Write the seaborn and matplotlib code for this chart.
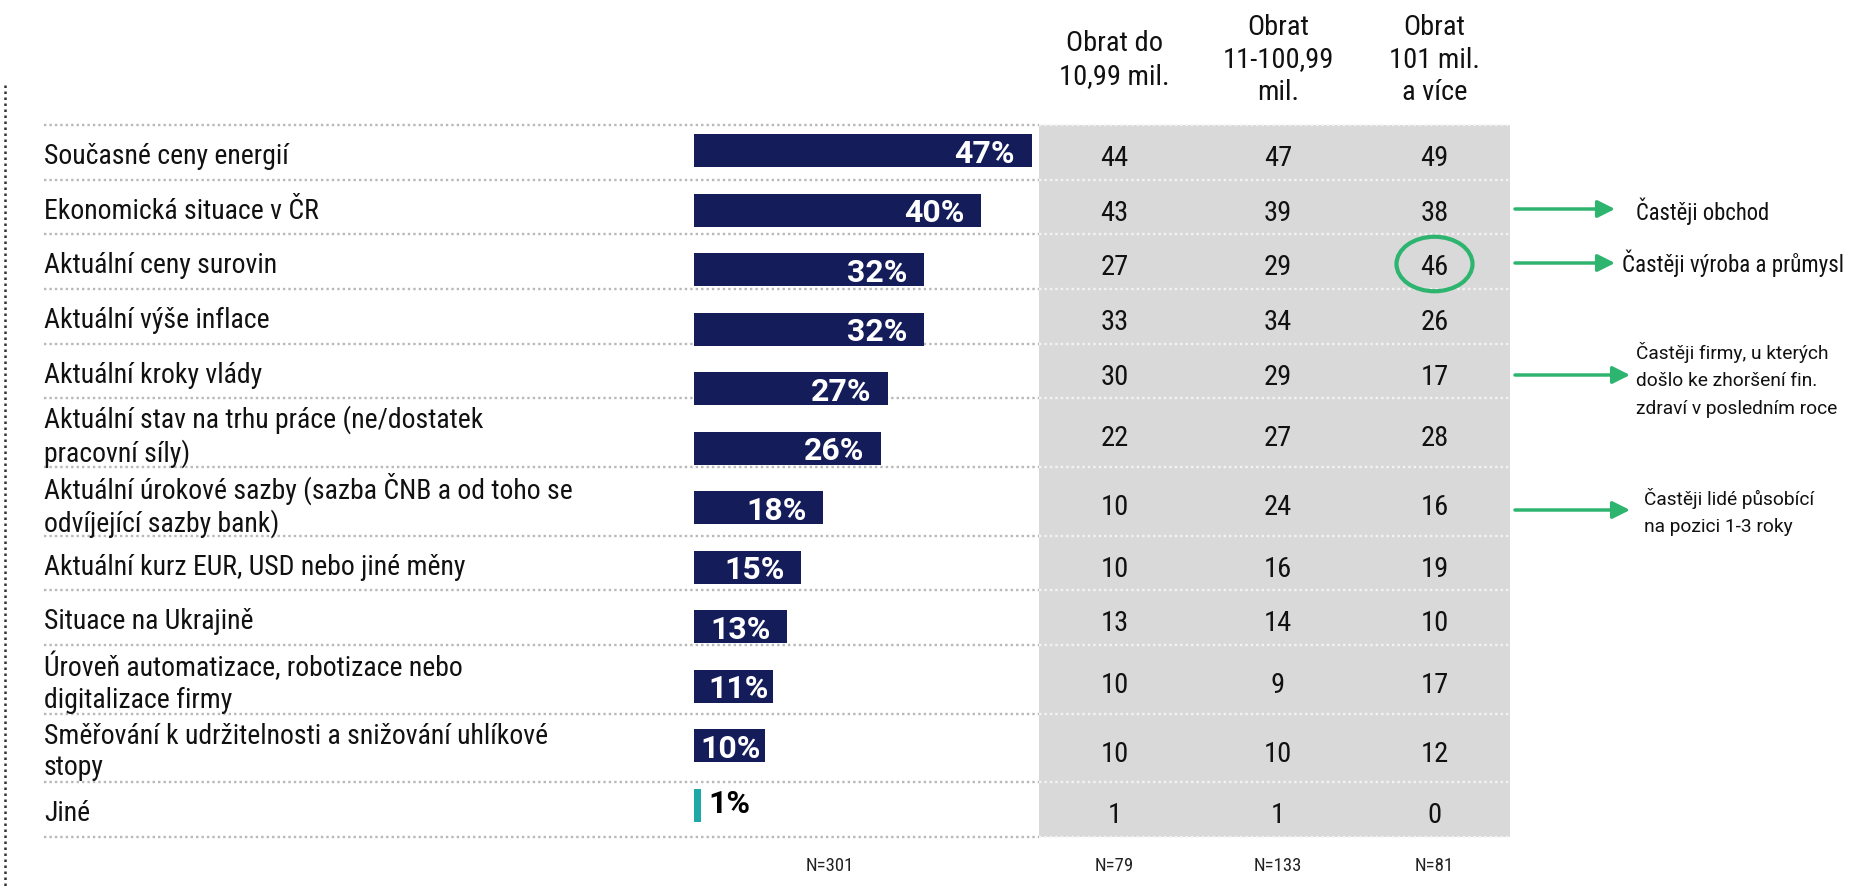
import pandas as pd
import matplotlib
matplotlib.use("Agg")
import matplotlib.pyplot as plt
import matplotlib.transforms as mtransforms
from matplotlib.patches import Rectangle, Ellipse
import seaborn as sns

# data
faktory = [
    "Současné ceny energií",
    "Ekonomická situace v ČR",
    "Aktuální ceny surovin",
    "Aktuální výše inflace",
    "Aktuální kroky vlády",
    "Aktuální stav na trhu práce (ne/dostatek\npracovní síly)",
    "Aktuální úrokové sazby (sazba ČNB a od toho se\nodvíjející sazby bank)",
    "Aktuální kurz EUR, USD nebo jiné měny",
    "Situace na Ukrajině",
    "Úroveň automatizace, robotizace nebo\ndigitalizace firmy",
    "Směřování k udržitelnosti a snižování uhlíkové\nstopy",
    "Jiné",
]
celkem = [47, 40, 32, 32, 27, 26, 18, 15, 13, 11, 10, 1]
obrat_do_11 = [44, 43, 27, 33, 30, 22, 10, 10, 13, 10, 10, 1]
obrat_11_100 = [47, 39, 29, 34, 29, 27, 24, 16, 14, 9, 10, 1]
obrat_nad_101 = [49, 38, 46, 26, 17, 28, 16, 19, 10, 17, 12, 0]
hlavicky = ["Obrat do\n10,99 mil.", "Obrat\n11-100,99\nmil.", "Obrat\n101 mil.\na více"]
pocty_n = ["N=301", "N=79", "N=133", "N=81"]
poznamky = [
    "Častěji obchod",
    "Častěji výroba a průmysl",
    "Častěji firmy, u kterých\ndošlo ke zhoršení fin.\nzdraví v posledním roce",
    "Častěji lidé působící\nna pozici 1-3 roky",
]
poznamky_radky = [1, 2, 4, 6]

NAVY = "#141C5A"
TEAL = "#1FA8A6"
GREEN = "#2DB46E"
GRAY = "#D9D9D9"

sns.set_theme(style="white")
COND = ["Roboto Condensed", "DejaVu Sans"]
REG = ["Roboto", "DejaVu Sans"]
plt.rcParams["font.family"] = COND

W, H = 1859, 889
fig = plt.figure(figsize=(W / 100, H / 100), dpi=100)
ax = fig.add_axes([0, 0, 1, 1])
# pixel coordinates (origin top-left)
T = mtransforms.Affine2D().scale(1 / W, -1 / H).translate(0, 1) + ax.transAxes

df = pd.DataFrame({"faktor": faktory, "podil": celkem})
barvy = [NAVY] * (len(faktory) - 1) + [TEAL]
sns.barplot(data=df, x="podil", y="faktor", hue="faktor", palette=barvy,
            legend=False, width=0.557, orient="h", ax=ax, saturation=1,
            linewidth=0, zorder=3)

BAR_X0, PX_PER_PCT = 693.6, 7.19
BAR_Y0, BAR_STEP = 150.6, 59.5
ax.set_xlim(-BAR_X0 / PX_PER_PCT, (W - BAR_X0) / PX_PER_PCT)
ax.set_ylim((H - BAR_Y0) / BAR_STEP, -BAR_Y0 / BAR_STEP)
ax.axis("off")

# bar value labels
for i, v in enumerate(celkem):
    if v >= 5:
        pad = 2.3 if v > 12 else 0.6
        ax.text(v - pad, i + 0.05, f"{v}%", color="white", fontsize=23,
                fontweight="bold", family=REG, ha="right", va="center",
                zorder=4)
    else:
        ax.text(v + 1.1, i - 0.02, f"{v}%", color="black", fontsize=23,
                fontweight="bold", family=REG, ha="left", va="center",
                zorder=4)

# row layout (labels, table, dotted lines)
bounds = [125.0]
for f in faktory:
    bounds.append(bounds[-1] + (68.6 if "\n" in f else 54.7))
centers = [(a + b) / 2 for a, b in zip(bounds[:-1], bounds[1:])]

GX0, GX1 = 1038.6, 1510.5
ax.add_patch(Rectangle((GX0, bounds[0]), GX1 - GX0, bounds[-1] - bounds[0],
                       transform=T, fc=GRAY, ec="none", zorder=0))
for b in bounds:
    ax.plot([44, GX0], [b, b], transform=T, color="#B8B8B8",
            ls=(0, (1, 1.3)), lw=1.7, zorder=1)
    ax.plot([GX0, GX1], [b, b], transform=T, color="#F4F4F4",
            ls=(0, (1, 1.3)), lw=1.7, zorder=1)

ax.plot([5, 5], [85, H], transform=T, color="#333333", ls=(0, (1, 1.4)),
        lw=1.8, zorder=1)

for f, c in zip(faktory, centers):
    ax.text(44, c + 4, f, transform=T, ha="left", va="center", fontsize=20,
            linespacing=1.22, color="#111111")

COL_X = [1114.5, 1278, 1434.5]
for x, col in zip(COL_X, [obrat_do_11, obrat_11_100, obrat_nad_101]):
    for v, c in zip(col, centers):
        ax.text(x, c + 6, str(v), transform=T, ha="center", va="center",
                fontsize=20.5, color="#111111", zorder=4)

for x, h in zip(COL_X, hlavicky):
    ax.text(x, 60, h, transform=T, ha="center", va="center", fontsize=20.5,
            linespacing=1.28, multialignment="center", color="#111111")

for x, n in zip([830] + COL_X, pocty_n):
    ax.text(x, 866, n, transform=T, ha="center", va="center", fontsize=13.5,
            color="#222222")

# highlight ring
ring = Ellipse((1434.5, 264), 76, 54.5, transform=T, fill=False,
               ec=GREEN, lw=3, zorder=5)
ax.add_patch(ring)

# arrows + notes
arrow_y = [209, 263, 375, 510]
arrow_x1 = [1615, 1615, 1630, 1630]
text_x = [1636, 1622, 1636, 1644]
text_y = [211, 263, 380, 512]
text_font = [COND, COND, REG, REG]
text_size = [16.3, 16.6, 13.8, 13.8]
for r, s, ay, ax1, tx, ty, ff, fs in zip(poznamky_radky, poznamky, arrow_y,
                                         arrow_x1, text_x, text_y,
                                         text_font, text_size):
    ax.annotate("", xy=(ax1, ay), xytext=(1515, ay), xycoords=T,
                textcoords=T,
                arrowprops=dict(arrowstyle="-|>", color=GREEN, lw=2.5,
                                mutation_scale=26, shrinkA=0, shrinkB=0))
    ax.text(tx, ty, s, transform=T, ha="left", va="center", fontsize=fs,
            family=ff, linespacing=1.65, color="#111111")

fig.savefig("out.png", dpi=100)
